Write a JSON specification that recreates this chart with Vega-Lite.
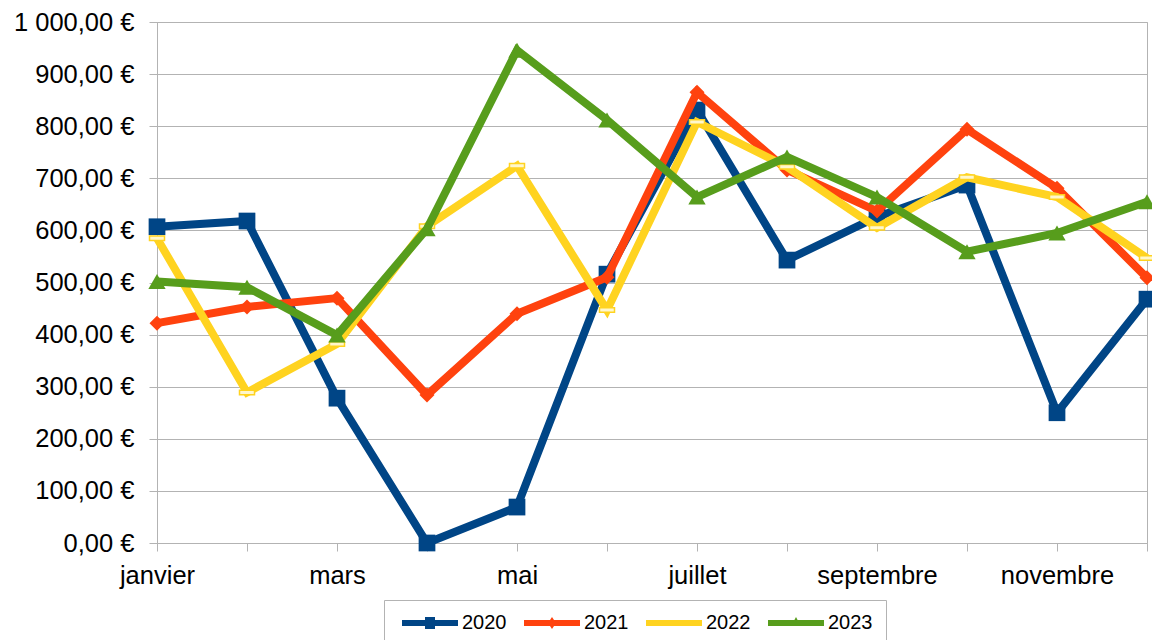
{
  "$schema": "https://vega.github.io/schema/vega-lite/v6.json",
  "width": 990,
  "height": 521,
  "autosize": {"type": "none"},
  "padding": {"left": 157, "top": 22, "right": 5, "bottom": 97},
  "background": "white",
  "config": {
    "font": "Liberation Sans",
    "view": {"stroke": "#b3b3b3", "strokeWidth": 1},
    "axis": {
      "labelFont": "Liberation Sans",
      "labelFontSize": 25.5,
      "labelColor": "black",
      "tickColor": "#b3b3b3",
      "domainColor": "#b3b3b3",
      "gridColor": "#b3b3b3",
      "tickSize": 8,
      "title": null
    }
  },
  "data": {
    "values": [
      {"mois": "janvier", "annee": "2020", "valeur": 607},
      {"mois": "février", "annee": "2020", "valeur": 618},
      {"mois": "mars", "annee": "2020", "valeur": 278},
      {"mois": "avril", "annee": "2020", "valeur": 0},
      {"mois": "mai", "annee": "2020", "valeur": 69},
      {"mois": "juin", "annee": "2020", "valeur": 516},
      {"mois": "juillet", "annee": "2020", "valeur": 831},
      {"mois": "août", "annee": "2020", "valeur": 543},
      {"mois": "septembre", "annee": "2020", "valeur": 626},
      {"mois": "octobre", "annee": "2020", "valeur": 687},
      {"mois": "novembre", "annee": "2020", "valeur": 250},
      {"mois": "décembre", "annee": "2020", "valeur": 468},
      {"mois": "janvier", "annee": "2021", "valeur": 422},
      {"mois": "février", "annee": "2021", "valeur": 453},
      {"mois": "mars", "annee": "2021", "valeur": 470},
      {"mois": "avril", "annee": "2021", "valeur": 284},
      {"mois": "mai", "annee": "2021", "valeur": 440},
      {"mois": "juin", "annee": "2021", "valeur": 510},
      {"mois": "juillet", "annee": "2021", "valeur": 865},
      {"mois": "août", "annee": "2021", "valeur": 716},
      {"mois": "septembre", "annee": "2021", "valeur": 637},
      {"mois": "octobre", "annee": "2021", "valeur": 794},
      {"mois": "novembre", "annee": "2021", "valeur": 681},
      {"mois": "décembre", "annee": "2021", "valeur": 509},
      {"mois": "janvier", "annee": "2022", "valeur": 585},
      {"mois": "février", "annee": "2022", "valeur": 289},
      {"mois": "mars", "annee": "2022", "valeur": 382},
      {"mois": "avril", "annee": "2022", "valeur": 608},
      {"mois": "mai", "annee": "2022", "valeur": 724},
      {"mois": "juin", "annee": "2022", "valeur": 447},
      {"mois": "juillet", "annee": "2022", "valeur": 808},
      {"mois": "août", "annee": "2022", "valeur": 722},
      {"mois": "septembre", "annee": "2022", "valeur": 605},
      {"mois": "octobre", "annee": "2022", "valeur": 702},
      {"mois": "novembre", "annee": "2022", "valeur": 664},
      {"mois": "décembre", "annee": "2022", "valeur": 547},
      {"mois": "janvier", "annee": "2023", "valeur": 502},
      {"mois": "février", "annee": "2023", "valeur": 491},
      {"mois": "mars", "annee": "2023", "valeur": 399},
      {"mois": "avril", "annee": "2023", "valeur": 603},
      {"mois": "mai", "annee": "2023", "valeur": 946},
      {"mois": "juin", "annee": "2023", "valeur": 812},
      {"mois": "juillet", "annee": "2023", "valeur": 664},
      {"mois": "août", "annee": "2023", "valeur": 741},
      {"mois": "septembre", "annee": "2023", "valeur": 664},
      {"mois": "octobre", "annee": "2023", "valeur": 559},
      {"mois": "novembre", "annee": "2023", "valeur": 595},
      {"mois": "décembre", "annee": "2023", "valeur": 655}
    ]
  },
  "encoding": {
    "x": {
      "field": "mois",
      "type": "ordinal",
      "sort": ["janvier", "février", "mars", "avril", "mai", "juin", "juillet", "août", "septembre", "octobre", "novembre", "décembre"],
      "scale": {"type": "point", "padding": 0},
      "axis": {
        "labelAngle": 0,
        "labelPadding": 12,
        "grid": false,
        "labelOverlap": false,
        "labelExpr": "indexof(['janvier','mars','mai','juillet','septembre','novembre'], datum.label) >= 0 ? datum.label : ''"
      }
    },
    "y": {
      "field": "valeur",
      "type": "quantitative",
      "scale": {"domain": [0, 1000], "nice": false},
      "axis": {
        "values": [0, 100, 200, 300, 400, 500, 600, 700, 800, 900, 1000],
        "labelPadding": 15,
        "labelExpr": "replace(replace(format(datum.value, ',.2f'), ',', ' '), '.', ',') + ' €'"
      }
    }
  },
  "layer": [
    {
      "transform": [{"filter": "datum.annee == '2020'"}],
      "mark": {"type": "line", "strokeWidth": 8},
      "encoding": {
        "color": {
          "field": "annee",
          "type": "nominal",
          "scale": {"domain": ["2020", "2021", "2022", "2023"], "range": ["#004586", "#ff420e", "#ffd320", "#579d1c"]},
          "legend": {
            "title": null,
            "orient": "none",
            "direction": "horizontal",
            "legendX": 227,
            "legendY": 578,
            "strokeColor": "#b3b3b3",
            "padding": 13,
            "labelFont": "Liberation Sans",
            "labelFontSize": 20,
            "labelColor": "black",
            "labelOffset": 45,
            "columnPadding": 12,
            "symbolType": "stroke",
            "symbolSize": 400,
            "symbolStrokeWidth": 6,
            "encode": {
              "symbols": {
                "update": {
                  "shape": {"signal": "datum.value == '2020' ? 'M-0.5,-0.3L5.1,-0.3L5.1,0.3L-0.5,0.3Z M1.8,-0.6L2.8,-0.6L2.8,0.6L1.8,0.6Z' : datum.value == '2021' ? 'M-0.5,-0.3L5.1,-0.3L5.1,0.3L-0.5,0.3Z M2.3,-0.6L2.7,0L2.3,0.6L1.9,0Z' : datum.value == '2022' ? 'M-0.5,-0.3L5.1,-0.3L5.1,0.3L-0.5,0.3Z' : 'M-0.5,-0.3L5.1,-0.3L5.1,0.3L-0.5,0.3Z M2.3,-0.6L2.75,0.25L1.85,0.25Z'"},
                  "fill": {"scale": "color", "field": "value"},
                  "stroke": {"value": "transparent"},
                  "strokeWidth": {"value": 0}
                }
              }
            }
          }
        }
      }
    },
    {
      "transform": [{"filter": "datum.annee == '2020'"}],
      "mark": {"type": "point", "shape": "square", "filled": true, "opacity": 1, "strokeWidth": 0, "size": 280, "color": "#004586"}
    },
    {
      "transform": [{"filter": "datum.annee == '2021'"}],
      "mark": {"type": "line", "strokeWidth": 8},
      "encoding": {"color": {"field": "annee", "type": "nominal"}}
    },
    {
      "transform": [{"filter": "datum.annee == '2021'"}],
      "mark": {"type": "point", "shape": "diamond", "filled": true, "opacity": 1, "strokeWidth": 0, "size": 225, "color": "#ff420e"}
    },
    {
      "transform": [{"filter": "datum.annee == '2022'"}],
      "mark": {"type": "line", "strokeWidth": 8},
      "encoding": {"color": {"field": "annee", "type": "nominal"}}
    },
    {
      "transform": [{"filter": "datum.annee == '2022'"}],
      "mark": {"type": "point", "shape": "M-1,-0.3L1,-0.3L1,0.3L-1,0.3Z", "filled": false, "opacity": 1, "strokeWidth": 1.5, "size": 225, "color": "#ffd320", "fill": "#fff7cc"}
    },
    {
      "transform": [{"filter": "datum.annee == '2023'"}],
      "mark": {"type": "line", "strokeWidth": 8},
      "encoding": {"color": {"field": "annee", "type": "nominal"}}
    },
    {
      "transform": [{"filter": "datum.annee == '2023'"}],
      "mark": {"type": "point", "shape": "triangle-up", "filled": true, "opacity": 1, "strokeWidth": 0, "size": 300, "color": "#579d1c"}
    }
  ]
}
